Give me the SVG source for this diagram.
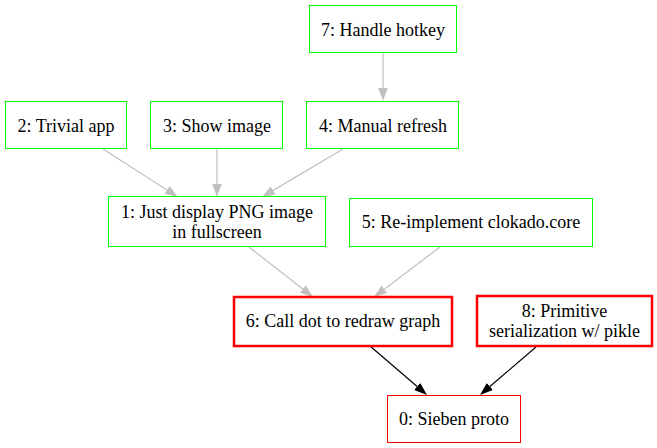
<svg xmlns="http://www.w3.org/2000/svg" width="657" height="448" viewBox="0 0 657 448">
<style>
.bg{fill:#ffffff}
.n rect{fill:#ffffff;stroke-width:1}
.g rect{stroke:#00ff00}
.r rect{stroke:#ff0000}
.rt rect{stroke:#ff0000;stroke-width:2.5}
.n text{font-family:"Liberation Serif","Times New Roman",serif;font-size:18px;fill:#000000;text-anchor:middle}
.e{fill:none;stroke-width:1.2}
.eg{stroke:#c0c0c0}
.eb{stroke:#000000}
</style>
<defs>
<marker id="ag" markerUnits="userSpaceOnUse" markerWidth="14" markerHeight="10" viewBox="0 -5 14 10" refX="0" refY="0" orient="auto">
<path d="M0,-4.7 L13,0 L0,4.7 z" fill="#c0c0c0"/>
</marker>
<marker id="ab" markerUnits="userSpaceOnUse" markerWidth="14" markerHeight="10" viewBox="0 -5 14 10" refX="0" refY="0" orient="auto">
<path d="M0,-4.7 L13,0 L0,4.7 z" fill="#000000"/>
</marker>
</defs>
<rect class="bg" x="0" y="0" width="657" height="448"/>
<g id="edges">
<path class="e eg" d="M383,53 L383,88" marker-end="url(#ag)"/>
<path class="e eg" d="M103,149 L167.05,189.99" marker-end="url(#ag)"/>
<path class="e eg" d="M217,149 L217,184" marker-end="url(#ag)"/>
<path class="e eg" d="M343,149 L273.18,190.37" marker-end="url(#ag)"/>
<path class="e eg" d="M249,247 L302.75,289" marker-end="url(#ag)"/>
<path class="e eg" d="M440,247 L384.36,289.15" marker-end="url(#ag)"/>
<path class="e eb" d="M370,346 L417.14,386.53" marker-end="url(#ab)"/>
<path class="e eb" d="M536,347 L489.87,386.54" marker-end="url(#ab)"/>
</g>
<g id="node7" class="n g"><rect x="309.5" y="5.5" width="147" height="47"/><text x="383" y="35.5">7: Handle hotkey</text></g>
<g id="node2" class="n g"><rect x="5.5" y="101.5" width="121" height="47"/><text x="66" y="131.5">2: Trivial app</text></g>
<g id="node3" class="n g"><rect x="150.5" y="101.5" width="132" height="47"/><text x="217" y="131.5">3: Show image</text></g>
<g id="node4" class="n g"><rect x="306.5" y="101.5" width="152" height="47"/><text x="383" y="131.5">4: Manual refresh</text></g>
<g id="node1" class="n g"><rect x="108.5" y="196.5" width="217" height="50"/><text x="217" y="218">1: Just display PNG image</text><text x="217" y="238">in fullscreen</text></g>
<g id="node5" class="n g"><rect x="349.5" y="198.5" width="243" height="48"/><text x="471" y="228">5: Re-implement clokado.core</text></g>
<g id="node6" class="n rt"><rect x="234" y="297" width="218" height="49"/><text x="343" y="327">6: Call dot to redraw graph</text></g>
<g id="node8" class="n rt"><rect x="477" y="296" width="175" height="50"/><text x="564.5" y="316.5">8: Primitive</text><text x="564.5" y="336.5">serialization w/ pikle</text></g>
<g id="node0" class="n r"><rect x="387.5" y="395.5" width="133" height="47"/><text x="454" y="424.5">0: Sieben proto</text></g>
</svg>
